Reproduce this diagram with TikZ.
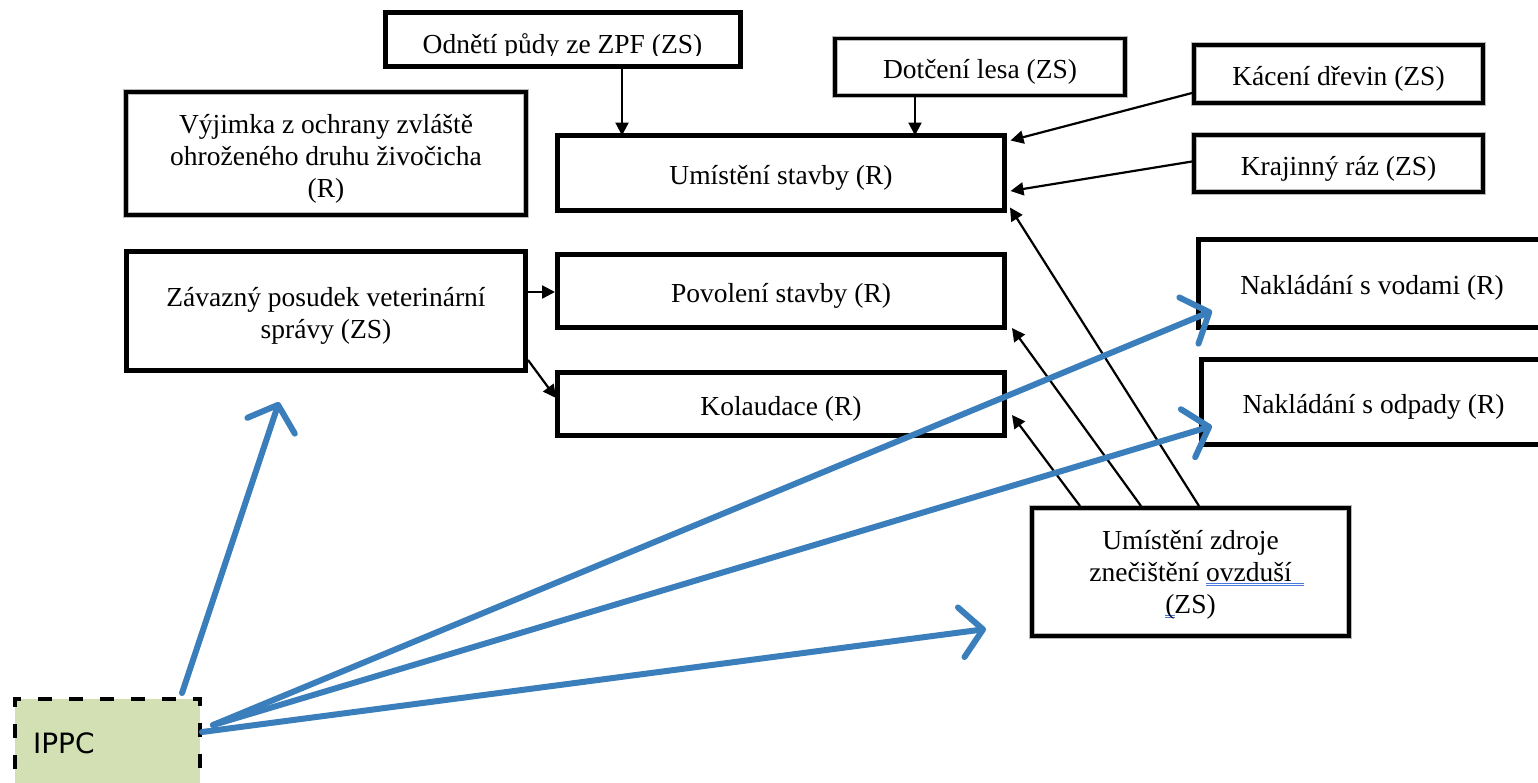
\documentclass[tikz,border=0pt]{standalone}
\usepackage{fontspec}
\setmainfont{Liberation Serif}
\newfontfamily\ippcfont{DejaVu Sans}
\usetikzlibrary{arrows.meta,calc}
\definecolor{ippcblue}{HTML}{3A7EBC}
\definecolor{ippcgreen}{HTML}{D2E0B4}
\definecolor{spellblue}{HTML}{4A78D8}
\newcommand\boxfont{\fontsize{27.5}{32}\selectfont}
\newcommand\topstrut{\rule{0pt}{29pt}}
\newcommand\dblul[2]{%
  \setbox0\hbox{#1}%
  \dimen0=\wd0 \advance\dimen0 by #2\relax
  \rlap{\color{spellblue}\rule[-2.2pt]{\dimen0}{1pt}\kern-\dimen0\rule[-4.8pt]{\dimen0}{1pt}}%
  \box0}
\tikzset{
  thickbox/.style={draw=black, line width=5pt, inner sep=0pt, outer sep=0pt, align=center, font=\boxfont},
  dblbox/.style={draw=black, line width=3.5pt, preaction={draw=gray!55, line width=5.5pt}, inner sep=0pt, outer sep=0pt, align=center, font=\boxfont},
  txt/.style={inner sep=0pt, outer sep=0pt, align=center, font=\boxfont},
  blk/.style={draw=black, line width=2.2pt, -{Triangle[length=13pt,width=13pt]}},
  blu/.style={draw=ippcblue, line width=6pt, line cap=round, -{Straight Barb[length=22pt,width=50pt,round]}},
  ippcbox/.style={draw=black, fill=ippcgreen, line width=4pt, dash pattern=on 14pt off 17pt, inner sep=0pt, outer sep=0pt}
}
\begin{document}
\begin{tikzpicture}[x=1pt,y=-1pt]
\useasboundingbox (0,0) rectangle (1538,782);
\clip (0,0) rectangle (1538,782);
\fill[white] (0,0) rectangle (1538,782);
% boxes
\node[thickbox, minimum width=355pt, minimum height=54pt] (odn) at (562.5,39) {};
\begin{scope}
  \clip (386,14) rectangle (738,55);
  \node[txt, anchor=base] (odntxt) at (562.5,53) {Odnětí půdy ze ZPF (ZS)};
\end{scope}
\node[dblbox, minimum width=290pt, minimum height=57pt] (dot) at (980,67) {\topstrut Dotčení lesa (ZS)};
\node[dblbox, minimum width=289pt, minimum height=58pt] (kac) at (1338.5,74) {\topstrut Kácení dřevin (ZS)};
\node[dblbox, minimum width=289pt, minimum height=57pt] (kra) at (1338.5,163.5) {\topstrut Krajinný ráz (ZS)};
\node[dblbox, minimum width=400pt, minimum height=123pt] (vyj) at (326,153.5) {\topstrut Výjimka z ochrany zvláště\\ohroženého druhu živočicha\\(R)};
\node[thickbox, minimum width=447pt, minimum height=75pt] (ums) at (781,173) {\topstrut Umístění stavby (R)};
\node[thickbox, minimum width=447pt, minimum height=73pt] (pov) at (781,291) {\topstrut Povolení stavby (R)};
\node[thickbox, minimum width=447pt, minimum height=63pt] (kol) at (781,404) {\topstrut Kolaudace (R)};
\node[thickbox, minimum width=399pt, minimum height=119pt] (zav) at (326,311) {\topstrut Závazný posudek veterinární\\správy (ZS)};
\node[thickbox, minimum width=347pt, minimum height=88pt] (vod) at (1372,283.5) {\rule{0pt}{27pt}Nakládání s vodami (R)};
\node[thickbox, minimum width=344pt, minimum height=85pt] (odp) at (1373.5,402) {\topstrut Nakládání s odpady (R)};
\node[dblbox, minimum width=317pt, minimum height=128pt] (zdr) at (1190.5,572) {\rule{0pt}{25pt}Umístění zdroje\\znečištění \dblul{ovzduší}{12pt}\\\dblul{(}{1pt}ZS)};
\node[ippcbox, minimum width=185pt, minimum height=101pt] (ippc) at (107.5,749.5) {};
\node[inner sep=0pt, outer sep=0pt, anchor=west, font=\ippcfont\fontsize{28}{32}\selectfont] (ippctxt) at (33,743) {IPPC};
% helper coordinates
\coordinate (xa) at (622,0);
\coordinate (xb) at (915,0);
% black arrows
\draw[blk] (odn.south -| xa) -- (ums.north -| xa);
\draw[blk] (dot.south -| xb) -- (ums.north -| xb);
\draw[blk] ($(kac.west)+(-2,19)$) -- ($(ums.north east)+(6,5)$);
\draw[blk] ($(kra.west)+(-2,-2)$) -- ($(ums.east)+(6,18)$);
\draw[blk] ($(zdr.north)+(8.5,-2)$) -- ($(ums.south east)+(5.5,-3)$);
\draw[blk] ($(zdr.north)+(-49.5,-2)$) -- ($(pov.south east)+(7.5,0.5)$);
\draw[blk] ($(zdr.north)+(-110.5,-2)$) -- ($(kol.east)+(7.5,11)$);
\draw[blk] ($(zav.east)+(2.5,-19)$) -- ($(pov.west)+(-2.5,1)$);
\draw[blk] ($(zav.east)+(2.5,49)$) -- ($(kol.west)+(-1.5,-6)$);
% blue arrows
\coordinate (s1) at (182,693);
\coordinate (s2) at (213,725);
\coordinate (s4) at (202,732);
\coordinate (t1) at (279,402);
\coordinate (t2) at (1212,311);
\coordinate (t3) at (1212,426);
\coordinate (t4) at (986,629);
\draw[blu] (s1) -- (t1);
\draw[blu] (s2) -- (t2);
\draw[blu] (s2) -- (t3);
\draw[blu] (s4) -- (t4);
\end{tikzpicture}
\end{document}
